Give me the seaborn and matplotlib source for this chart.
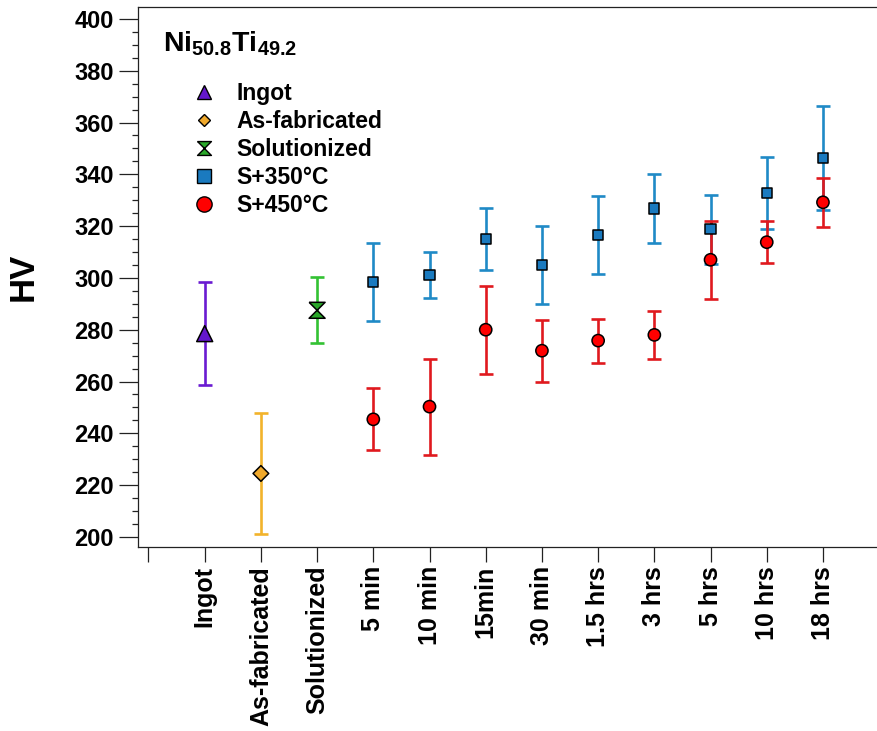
"""
Vickers hardness of Ni50.8Ti49.2 for the ingot, as-fabricated,
solutionized and aged (350 / 450 C) conditions.
"""

import matplotlib
matplotlib.use("Agg")
import matplotlib.pyplot as plt
import pandas as pd
import seaborn as sns
from matplotlib.lines import Line2D
from matplotlib.ticker import MultipleLocator

CATEGORIES = ["Ingot", "As-fabricated", "Solutionized", "5 min", "10 min",
              "15min", "30 min", "1.5 hrs", "3 hrs", "5 hrs", "10 hrs", "18 hrs"]
AGED_TIMES = CATEGORIES[3:]

INGOT_HV = [278.5]
INGOT_ERR = [20.0]
ASFAB_HV = [224.5]
ASFAB_ERR = [23.5]
SOL_HV = [287.5]
SOL_ERR = [12.8]

S350_HV = [298.3, 301.2, 315.1, 305.1, 316.6, 326.8, 318.8, 332.8, 346.2]
S350_ERR = [15.0, 9.0, 12.0, 15.0, 15.0, 13.5, 13.3, 14.0, 20.0]
S450_HV = [245.4, 250.3, 280.0, 271.9, 275.8, 278.0, 307.0, 313.8, 329.2]
S450_ERR = [12.0, 18.5, 17.0, 12.0, 8.5, 9.3, 15.0, 8.2, 9.5]

GROUPS = ["Ingot", "As-fabricated", "Solutionized", "S+350°C", "S+450°C"]

BAR_COLORS = {"Ingot": "#6a1bd1", "As-fabricated": "#f2b32b",
              "Solutionized": "#33c233", "S+350°C": "#1f8ac6", "S+450°C": "#e0191e"}
FACE_COLORS = {"Ingot": "#6418cc", "As-fabricated": "#f0a92c",
               "Solutionized": "#2aa82a", "S+350°C": "#1a7abf", "S+450°C": "#ff0000"}

HOURGLASS = [(-1, 1), (1, 1), (-1, -1), (1, -1), (-1, 1)]
MARKERS = {"Ingot": "^", "As-fabricated": "D", "Solutionized": HOURGLASS,
           "S+350°C": "s", "S+450°C": "o"}
MARKER_PT = {"Ingot": 11.5, "As-fabricated": 8.0, "Solutionized": 11.5,
             "S+350°C": 7.4, "S+450°C": 8.8}
LEGEND_PT = {"Ingot": 10.5, "As-fabricated": 6.3, "Solutionized": 10.0,
             "S+350°C": 9.5, "S+450°C": 11.0}


def build_frame():
    rows = []
    singles = [("Ingot", INGOT_HV, INGOT_ERR, ["Ingot"]),
               ("As-fabricated", ASFAB_HV, ASFAB_ERR, ["As-fabricated"]),
               ("Solutionized", SOL_HV, SOL_ERR, ["Solutionized"]),
               ("S+350°C", S350_HV, S350_ERR, AGED_TIMES),
               ("S+450°C", S450_HV, S450_ERR, AGED_TIMES)]
    for group, hv, err, cats in singles:
        for cat, v, e in zip(cats, hv, err):
            rows.append({"group": group, "pos": CATEGORIES.index(cat), "hv": v, "err": e})
    return pd.DataFrame(rows)


def main():
    sns.set_style("ticks")
    plt.rcParams["font.family"] = ["Liberation Sans", "DejaVu Sans"]
    plt.rcParams["font.weight"] = "bold"
    plt.rcParams["mathtext.fontset"] = "custom"
    plt.rcParams["mathtext.bf"] = "Liberation Sans:bold"
    plt.rcParams["mathtext.rm"] = "Liberation Sans:bold"
    for key in ["text.color", "axes.labelcolor", "xtick.color", "ytick.color",
                "xtick.labelcolor", "ytick.labelcolor"]:
        plt.rcParams[key] = "black"

    df = build_frame()

    fig = plt.figure(figsize=(8.77, 7.31), dpi=100)
    ax = fig.add_axes([0.157, 0.2517, 0.8647, 0.7387])

    # error bars first, markers on top
    for group in GROUPS:
        sub = df[df["group"] == group]
        ax.errorbar(sub["pos"], sub["hv"], yerr=sub["err"], fmt="none",
                    ecolor=BAR_COLORS[group], elinewidth=1.9, capsize=5.2,
                    capthick=1.9, zorder=2)

    sns.scatterplot(data=df, x="pos", y="hv", hue="group", style="group",
                    size="group", palette=FACE_COLORS, markers=MARKERS,
                    sizes={g: s ** 2 for g, s in MARKER_PT.items()},
                    hue_order=GROUPS, style_order=GROUPS, size_order=GROUPS,
                    edgecolor="black", linewidth=1.1, legend=False,
                    zorder=3, ax=ax)

    ax.set_xlim(-1.192, 12.3)
    ax.set_ylim(196.1, 404.6)
    ax.set_xticks(range(-1, 13))
    ax.set_xticklabels([""] + CATEGORIES + [""], rotation=90,
                       fontsize=18, fontweight="bold")
    ax.yaxis.set_major_locator(MultipleLocator(20))
    ax.yaxis.set_minor_locator(MultipleLocator(5))
    ax.tick_params(axis="y", which="major", length=13.5, width=0.9,
                   pad=3.5, labelsize=17, color="#222222")
    ax.tick_params(axis="y", which="minor", length=4.3, width=0.9, color="#222222")
    ax.tick_params(axis="x", length=10.5, width=0.9, pad=3, color="#222222")
    for lab in ax.get_yticklabels():
        lab.set_fontweight("bold")

    ax.set_xlabel("")
    ax.set_ylabel("HV", fontsize=25, fontweight="bold")
    ax.yaxis.set_label_coords(-0.129, 0.5)

    for side in ["left", "bottom", "top"]:
        ax.spines[side].set_linewidth(0.9)
        ax.spines[side].set_color("#222222")
    ax.spines["right"].set_visible(False)

    handles = [Line2D([], [], linestyle="none", marker=MARKERS[g],
                      markerfacecolor=FACE_COLORS[g], markeredgecolor="black",
                      markeredgewidth=1.0, markersize=LEGEND_PT[g])
               for g in GROUPS]
    ax.legend(handles, GROUPS, loc="upper left",
              bbox_to_anchor=(193 / 877, 1 - 82 / 731),
              bbox_transform=fig.transFigure, frameon=False,
              borderpad=0, borderaxespad=0, handlelength=1.0,
              handletextpad=0.9, labelspacing=0.22,
              prop={"size": 16.5, "weight": "bold"})

    fig.text(163 / 877, 1 - 51 / 731, r"Ni$_{\mathbf{50.8}}$Ti$_{\mathbf{49.2}}$",
             fontsize=20.5, fontweight="bold", ha="left", va="baseline")

    fig.savefig("out.png", dpi=100)
    plt.close(fig)


if __name__ == "__main__":
    main()
